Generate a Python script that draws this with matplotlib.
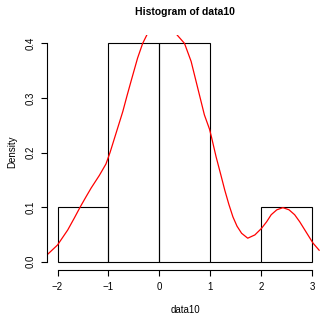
import matplotlib.pyplot as plt
import numpy as np

plt.rcParams.update({
    'font.family': ['Liberation Sans', 'DejaVu Sans'],
    'font.size': 7,
})

# histogram of data10 (density scale)
bin_edges = [-2, -1, 0, 1, 2, 3]
densities = [0.1, 0.4, 0.4, 0.0, 0.1]

# red density curve
curve_x = [-2.21, -2.0, -1.8, -1.67, -1.55, -1.44, -1.34, -1.18, -1.05, -0.97,
           -0.88, -0.80, -0.72, -0.64, -0.56, -0.43, -0.33, -0.24, -0.12, 0.0,
           0.1, 0.2, 0.33, 0.49, 0.62, 0.75, 0.88, 0.98, 1.02, 1.11,
           1.20, 1.28, 1.36, 1.44, 1.52, 1.61, 1.73, 1.87, 2.0, 2.1,
           2.19, 2.3, 2.42, 2.54, 2.65, 2.75, 2.85, 3.01, 3.13]
curve_y = [0.012, 0.0305, 0.058, 0.080, 0.101, 0.119, 0.135, 0.158, 0.179, 0.200,
           0.227, 0.251, 0.275, 0.303, 0.330, 0.373, 0.400, 0.417, 0.433, 0.442,
           0.443, 0.436, 0.417, 0.400, 0.367, 0.318, 0.269, 0.243, 0.228, 0.192,
           0.160, 0.131, 0.105, 0.082, 0.065, 0.052, 0.043, 0.049, 0.061, 0.073,
           0.086, 0.095, 0.099, 0.095, 0.086, 0.073, 0.058, 0.034, 0.021]

xticks = [-2, -1, 0, 1, 2, 3]
yticks = [0.0, 0.1, 0.2, 0.3, 0.4]

fig = plt.figure(figsize=(3.2, 3.15), dpi=100)
ax = fig.add_axes([47.3 / 320, 0.1416, 275.4 / 320, 0.890 - 0.1416])

lefts = np.array(bin_edges[:-1])
widths = np.diff(bin_edges)
ax.bar(lefts, densities, width=widths, align='edge', facecolor='none',
       edgecolor='black', linewidth=0.8)
ax.plot(curve_x, curve_y, color='red', linewidth=0.9)

ax.set_xlim(-2.2, 3.2)
ax.set_ylim(-0.016, 0.416)

for s in ['top', 'right']:
    ax.spines[s].set_visible(False)
ax.spines['bottom'].set_bounds(-2, 3)
ax.spines['left'].set_bounds(0, 0.4)
ax.spines['bottom'].set_linewidth(0.8)
ax.spines['left'].set_linewidth(0.8)

ax.set_xticks(xticks)
ax.set_xticklabels(['\u22122', '\u22121', '0', '1', '2', '3'])
ax.set_yticks(yticks)
ax.set_yticklabels([f'{v:.1f}' for v in yticks], rotation=90, va='center')
ax.tick_params(length=4.3, width=0.8, pad=4)

# title and axis labels placed like R's margins
fig.text(185 / 320, 1 - 12 / 315, 'Histogram of data10', fontsize=7.5,
         fontweight='bold', ha='center', va='center')
fig.text(185 / 320, 1 - 310 / 315, 'data10', ha='center', va='center')
fig.text(12 / 320, 1 - 152 / 315, 'Density', rotation=90, ha='center', va='center')

plt.savefig('out.png', dpi=100)
